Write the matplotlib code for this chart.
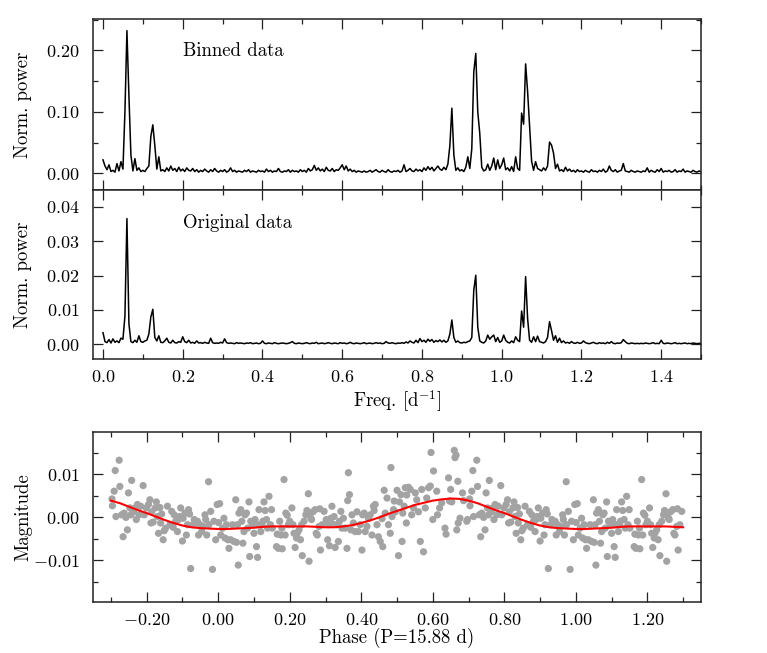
import numpy as np
import matplotlib.pyplot as plt
from matplotlib.ticker import MultipleLocator, FuncFormatter

plt.rcParams['font.family'] = 'cmr10'
plt.rcParams['mathtext.fontset'] = 'cm'
plt.rcParams['axes.unicode_minus'] = False

# periodogram of the binned data, power in units of 1e-3, step 0.005 d^-1
binned_power = np.array([
    22, 12, 6, 14, 3, 5, 2, 16, 4, 19,
    7, 100, 232, 126, 30, 4, 24, 5, 9, 3,
    5, 3, 8, 12, 60, 79, 45, 7, 27, 4,
    6, 3, 9, 4, 12, 5, 8, 3, 10, 4,
    7, 3, 9, 5, 4, 8, 3, 6, 2, 5,
    3, 7, 4, 2, 6, 3, 8, 4, 2, 5,
    3, 6, 2, 4, 9, 3, 5, 2, 4, 3,
    2, 5, 3, 6, 2, 4, 3, 2, 5, 3,
    4, 2, 7, 3, 5, 2, 4, 3, 8, 3,
    2, 4, 3, 6, 2, 5, 3, 4, 2, 6,
    3, 5, 2, 8, 4, 6, 13, 5, 9, 4,
    7, 3, 10, 5, 4, 8, 3, 6, 5, 9,
    14, 6, 12, 4, 7, 3, 5, 2, 4, 3,
    2, 4, 2, 3, 5, 2, 4, 6, 3, 2,
    5, 3, 2, 6, 3, 2, 4, 3, 5, 2,
    4, 14, 3, 5, 8, 4, 3, 7, 4, 6,
    3, 9, 5, 11, 6, 10, 4, 8, 12, 7,
    5, 10, 6, 15, 45, 106, 30, 5, 9, 4,
    6, 3, 10, 27, 8, 40, 165, 195, 100, 65,
    10, 4, 6, 15, 5, 12, 25, 6, 22, 8,
    14, 25, 6, 9, 4, 11, 3, 27, 8, 5,
    98, 80, 178, 133, 77, 20, 5, 19, 8, 6,
    4, 9, 5, 12, 51, 46, 33, 8, 15, 4,
    6, 3, 10, 4, 7, 3, 5, 2, 6, 3,
    4, 2, 5, 3, 2, 6, 3, 4, 2, 5,
    3, 7, 2, 4, 12, 5, 3, 6, 2, 4,
    5, 16, 4, 3, 2, 5, 3, 2, 4, 3,
    2, 4, 3, 9, 2, 5, 3, 2, 6, 3,
    8, 2, 4, 3, 5, 2, 3, 6, 2, 4,
    3, 7, 2, 4, 3, 2, 5, 3, 2, 4,
    3,
]) * 1e-3

# periodogram of the original data, power in units of 1e-4
original_power = np.array([
    34, 8, 5, 14, 4, 16, 6, 10, 5, 18,
    15, 82, 366, 60, 8, 5, 12, 6, 25, 8,
    6, 10, 12, 30, 80, 102, 20, 10, 25, 6,
    5, 10, 18, 6, 4, 12, 5, 4, 8, 6,
    22, 8, 5, 12, 4, 6, 3, 10, 4, 5,
    3, 6, 4, 3, 18, 5, 3, 4, 3, 6,
    4, 16, 5, 3, 4, 3, 2, 5, 3, 4,
    3, 2, 4, 3, 5, 2, 3, 4, 2, 3,
    10, 3, 2, 4, 3, 2, 5, 3, 2, 3,
    4, 3, 2, 3, 5, 8, 3, 2, 4, 3,
    2, 3, 5, 3, 2, 4, 3, 6, 2, 3,
    4, 2, 3, 5, 3, 2, 4, 3, 2, 5,
    3, 4, 2, 3, 6, 3, 2, 4, 3, 2,
    3, 5, 2, 3, 4, 2, 3, 5, 3, 4,
    2, 3, 8, 4, 3, 5, 3, 2, 4, 3,
    5, 3, 7, 4, 10, 6, 4, 12, 5, 17,
    8, 12, 6, 15, 9, 14, 6, 11, 8, 13,
    7, 12, 6, 10, 30, 71, 20, 6, 10, 5,
    4, 6, 5, 8, 10, 20, 158, 201, 50, 10,
    6, 4, 10, 27, 15, 22, 27, 8, 20, 6,
    10, 27, 12, 6, 4, 10, 5, 22, 12, 8,
    97, 50, 197, 75, 12, 6, 22, 8, 24, 8,
    6, 4, 8, 20, 66, 40, 12, 25, 6, 18,
    5, 10, 4, 6, 3, 8, 4, 3, 6, 3,
    4, 10, 5, 3, 2, 4, 6, 3, 2, 5,
    3, 4, 2, 6, 3, 8, 3, 2, 4, 3,
    5, 14, 8, 3, 2, 4, 3, 2, 3, 2,
    3, 2, 4, 3, 2, 3, 5, 2, 3, 2,
    12, 3, 2, 4, 3, 2, 3, 5, 2, 3,
    2, 3, 4, 2, 3, 2, 4, 3, 2, 3,
    3,
]) * 1e-4

freq = np.linspace(0.0, 1.5, len(binned_power))

# phased light curve (one cycle, 0..1), magnitude in units of 1e-3
phase = np.array([
    0.001, 0.004, 0.007, 0.012, 0.016, 0.019, 0.023, 0.027, 0.030, 0.035,
    0.040, 0.044, 0.049, 0.051, 0.054, 0.056, 0.058, 0.063, 0.066, 0.069,
    0.072, 0.075, 0.079, 0.082, 0.086, 0.088, 0.091, 0.096, 0.100, 0.103,
    0.107, 0.110, 0.112, 0.114, 0.119, 0.122, 0.125, 0.128, 0.131, 0.135,
    0.138, 0.142, 0.146, 0.149, 0.151, 0.163, 0.165, 0.168, 0.172, 0.175,
    0.178, 0.179, 0.184, 0.187, 0.189, 0.193, 0.196, 0.200, 0.206, 0.209,
    0.212, 0.215, 0.219, 0.221, 0.226, 0.230, 0.233, 0.235, 0.240, 0.245,
    0.248, 0.252, 0.254, 0.256, 0.259, 0.261, 0.265, 0.271, 0.274, 0.277,
    0.282, 0.284, 0.286, 0.291, 0.296,
    0.302, 0.306, 0.308, 0.311, 0.315, 0.318, 0.321, 0.324, 0.327, 0.332,
    0.336, 0.339, 0.343, 0.346, 0.350, 0.355, 0.360, 0.362, 0.364, 0.367,
    0.371, 0.374, 0.378, 0.383, 0.388, 0.392, 0.397, 0.402, 0.404, 0.408,
    0.411, 0.416, 0.420, 0.425, 0.430, 0.434, 0.436, 0.439, 0.444, 0.448,
    0.453, 0.458, 0.460, 0.464, 0.467, 0.472, 0.476, 0.481, 0.483, 0.486,
    0.490, 0.492, 0.495, 0.500, 0.504, 0.507, 0.511, 0.514, 0.516, 0.520,
    0.523, 0.526, 0.527, 0.532, 0.537, 0.541, 0.546, 0.551, 0.555, 0.560,
    0.565, 0.569, 0.574, 0.579, 0.583, 0.588, 0.593, 0.595,
    0.600, 0.602, 0.611, 0.613, 0.619, 0.625, 0.634, 0.637, 0.644, 0.647,
    0.650, 0.653, 0.660, 0.662, 0.665, 0.667, 0.670, 0.671, 0.676, 0.683,
    0.686, 0.695, 0.697, 0.703, 0.704, 0.709, 0.712, 0.714, 0.723, 0.725,
    0.730, 0.734, 0.737, 0.742, 0.746, 0.749, 0.753, 0.756, 0.758, 0.763,
    0.768, 0.771, 0.774, 0.779, 0.783, 0.790, 0.793, 0.799, 0.805, 0.809,
    0.812, 0.814, 0.818, 0.824, 0.827, 0.830, 0.833, 0.837, 0.839, 0.842,
    0.846, 0.849, 0.853, 0.858, 0.865, 0.870, 0.874, 0.877, 0.881, 0.886,
    0.889, 0.892, 0.895, 0.900, 0.902, 0.907, 0.911, 0.914, 0.917, 0.920,
    0.923, 0.930, 0.933, 0.937, 0.942, 0.945, 0.949, 0.954, 0.958, 0.963,
    0.965, 0.968, 0.973, 0.974, 0.979, 0.984, 0.988, 0.993, 0.997,
])
mag = np.array([
    -1.2, 3.2, -4.1, -2.5, -0.2, -4.8, -1.7, -5.2, -7.2, -5.2,
    -1.7, -5.6, 4.1, -5.8, -1.7, -11.1, 1.0, 1.8, -0.9, -6.0,
    -3.3, 0.6, 1.0, -2.5, 3.6, -9.1, -0.9, -1.7, -3.7, -0.5,
    -6.8, -9.3, -1.7, 1.8, -3.3, -1.7, -0.9, 3.6, 1.6, -0.5,
    -2.5, 4.9, -1.7, 1.8, -2.5, -6.8, -3.9, -7.2, -0.9, -4.1,
    -2.5, -7.3, 8.8, -4.1, 1.0, 0.5, -1.7, -0.9, 2.2, -1.7,
    -3.7, -7.0, -4.8, -3.7, -2.9, -5.2, -1.7, -8.9, -0.9, 0.6,
    1.6, 5.5, -10.2, 1.0, -0.2, -0.5, 1.3, 1.8, -3.7, -4.1,
    -2.1, 2.0, -7.6, -1.7, 1.4,
    -0.5, -5.2, -1.7, -6.6, -0.2, 2.6, -1.6, 0.2, -7.0, -1.7,
    -5.6, -0.9, 1.4, -2.5, -0.2, -2.5, -7.2, 3.9, 10.4, 5.3,
    -2.9, 0.6, -1.3, -3.3, 1.3, -3.3, -1.7, -7.6, 0.6, 1.0,
    -3.3, -2.1, -0.2, 0.6, -4.1, 2.6, 1.6, 3.0, -1.7, -4.5,
    -5.6, -0.3, -6.8, 6.3, 1.0, 4.5, -1.7, -3.7, 11.6, 0.2,
    1.8, 3.8, 1.3, 6.3, -8.9, 3.6, 5.3, -5.6, 1.0, 2.6,
    6.9, -1.3, 5.2, 7.0, 6.5, 0.6, 2.2, 5.7, 4.1, 1.3,
    -5.6, 6.5, -8.0, 2.2, 4.5, 6.9, 7.3, 15.1,
    -0.5, 10.8, 6.1, 0.6, 2.2, 3.4, -2.5, -3.9, 9.2, 3.8,
    6.5, 3.6, 15.6, 13.9, 14.5, -2.9, 8.4, -1.3, -0.2, 5.7,
    3.9, -0.9, -0.5, 4.3, 2.7, 6.1, 10.9, 0.2, 13.3, 7.2,
    0.6, -4.5, 1.0, 0.0, -2.9, 5.7, 2.2, 0.6, 8.6, 1.3,
    2.2, -0.5, 3.0, 0.6, 2.6, 7.4, 0.6, 2.2, 3.0, 4.1,
    -1.3, 1.3, -1.1, 2.2, 3.6, 0.2, -3.7, 2.3, -1.3, 0.8,
    -5.2, -3.1, -2.5, 2.6, -1.7, 1.4, -2.3, 0.6, -0.9, -3.3,
    -0.5, 0.2, 2.2, -5.5, -0.2, 1.0, -4.1, -1.7, 1.8, 0.8,
    -11.9, -1.7, -0.5, -1.3, -0.9, -4.1, -1.7, -3.3, -2.1, 0.6,
    -0.5, -4.1, 8.3, -1.7, 1.4, -12.1, -0.9, -5.2, 3.0,
]) * 1e-3

# fitted curve, one cycle at phase steps of 0.025, units of 1e-3
fit_phase = np.linspace(0.0, 1.0, 41)
fit_mag = np.array([
    -2.7, -2.7, -2.6, -2.5, -2.4, -2.2, -2.1, -2.1, -2.1, -2.1,
    -2.1, -2.2, -2.3, -2.3, -2.1, -1.8, -1.3, -0.7, 0.0, 0.8,
    1.5, 2.2, 2.9, 3.4, 3.9, 4.2, 4.4, 4.3, 3.9, 3.3,
    2.5, 1.7, 1.0, 0.2, -0.6, -1.3, -1.9, -2.3, -2.5, -2.6,
    -2.7,
]) * 1e-3

LINE_W = 1.1
FS = 13.5     # axis labels and annotations
TICK_FS = 13  # tick labels
YLAB_X = -0.10


def tick_fmt(ndig):
    return FuncFormatter(lambda v, pos: '$%.*f$' % (ndig, v))


def style_axes(ax):
    for s in ax.spines.values():
        s.set_linewidth(1.1)
        s.set_color('#222222')
    ax.tick_params(which='both', direction='in', top=True, right=True,
                   width=0.9, color='#222222', labelsize=TICK_FS)
    ax.tick_params(axis='x', pad=7)
    ax.tick_params(axis='y', pad=10)
    ax.tick_params(which='major', length=7)
    ax.tick_params(which='minor', length=3.5)


fig = plt.figure(figsize=(7.67, 6.53), dpi=100)

ax1 = fig.add_axes([0.1213, 0.709, 0.7927, 0.262])
ax2 = fig.add_axes([0.1213, 0.450, 0.7927, 0.259])
ax3 = fig.add_axes([0.1213, 0.078, 0.7927, 0.260])

# binned data
ax1.plot(freq, binned_power, color='black', lw=LINE_W)
ax1.set_xlim(-0.025, 1.5)
ax1.set_ylim(-0.027, 0.251)
ax1.xaxis.set_major_locator(MultipleLocator(0.2))
ax1.xaxis.set_minor_locator(MultipleLocator(0.1))
ax1.yaxis.set_major_locator(MultipleLocator(0.1))
ax1.yaxis.set_minor_locator(MultipleLocator(0.05))
ax1.yaxis.set_major_formatter(tick_fmt(2))
ax1.tick_params(labelbottom=False)
style_axes(ax1)
ax1.set_ylabel('Norm. power', fontsize=FS)
ax1.yaxis.set_label_coords(YLAB_X, 0.5)
ax1.text(0.148, 0.815, 'Binned data', transform=ax1.transAxes,
         fontsize=FS, va='center')

# original data
ax2.plot(freq, original_power, color='black', lw=LINE_W)
ax2.set_xlim(-0.025, 1.5)
ax2.set_ylim(-0.0043, 0.0449)
ax2.xaxis.set_major_locator(MultipleLocator(0.2))
ax2.xaxis.set_minor_locator(MultipleLocator(0.1))
ax2.yaxis.set_major_locator(MultipleLocator(0.01))
ax2.xaxis.set_major_formatter(tick_fmt(1))
ax2.yaxis.set_major_formatter(tick_fmt(2))
style_axes(ax2)
ax2.set_ylabel('Norm. power', fontsize=FS)
ax2.yaxis.set_label_coords(YLAB_X, 0.5)
ax2.set_xlabel('Freq. [d$^{-1}$]', fontsize=FS)
ax2.xaxis.set_label_coords(0.5, -0.17)
ax2.text(0.148, 0.806, 'Original data', transform=ax2.transAxes,
         fontsize=FS, va='center')

# phased light curve, shown from -0.3 to 1.3
early = phase < 0.3
late = phase >= 0.7
px = np.concatenate([phase[late] - 1.0, phase, phase[early] + 1.0])
py = np.concatenate([mag[late], mag, mag[early]])
ax3.scatter(px, py, s=27, color='#a3a3a3', edgecolors='none', zorder=2)

fx = np.concatenate([fit_phase[:-1] - 1.0, fit_phase[:-1], fit_phase + 1.0])
fy = np.concatenate([fit_mag[:-1], fit_mag[:-1], fit_mag])
keep = (fx >= -0.3) & (fx <= 1.3)
ax3.plot(fx[keep], fy[keep], color='red', lw=1.5, zorder=3)

ax3.set_xlim(-0.35, 1.35)
ax3.set_ylim(-0.0197, 0.0198)
ax3.xaxis.set_major_locator(MultipleLocator(0.2))
ax3.xaxis.set_minor_locator(MultipleLocator(0.1))
ax3.yaxis.set_major_locator(MultipleLocator(0.01))
ax3.yaxis.set_minor_locator(MultipleLocator(0.005))
ax3.xaxis.set_major_formatter(tick_fmt(2))
ax3.yaxis.set_major_formatter(tick_fmt(2))
style_axes(ax3)
ax3.set_ylabel('Magnitude', fontsize=FS)
ax3.yaxis.set_label_coords(YLAB_X, 0.5)
ax3.set_xlabel('Phase (P=15.88 d)', fontsize=FS)
ax3.xaxis.set_label_coords(0.5, -0.15)

fig.savefig('out.png', dpi=100)
plt.close(fig)
